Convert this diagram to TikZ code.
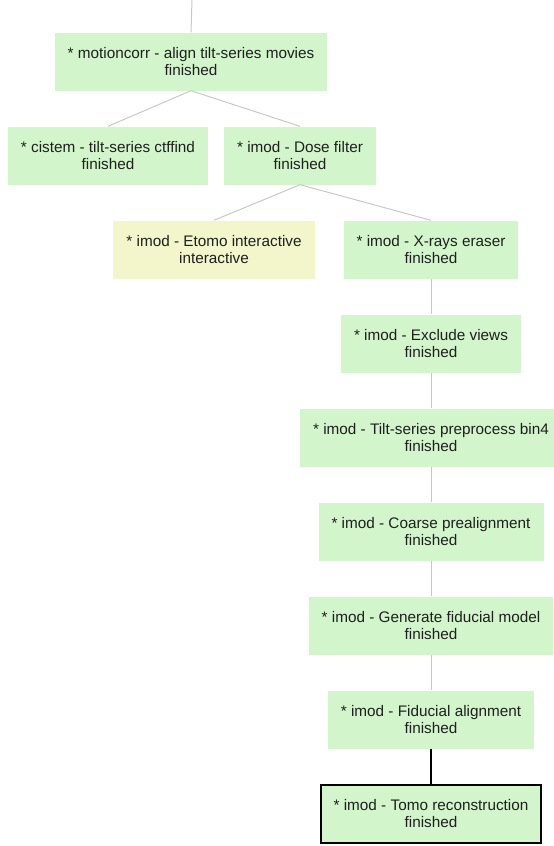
\documentclass[tikz,border=0pt]{standalone}
\usepackage{fontspec}
\setmainfont{Liberation Sans}
\usetikzlibrary{trees}
\definecolor{donegreen}{HTML}{D2F5CB}
\definecolor{waityellow}{HTML}{F3F5CB}
\definecolor{linkgray}{HTML}{C8C8C8}

\tikzset{
	box/.style = {rectangle, minimum height=58pt, inner xsep=13pt, align=center,
		font=\fontsize{15.3}{17}\selectfont, text=black!88},
	finished/.style = {box, fill=donegreen},
	interactive/.style = {box, fill=waityellow},
	selected/.style = {finished, draw=black, line width=2pt}
}

\begin{document}
\begin{tikzpicture}[x=1pt, y=1pt,
	grow via three points={one child at (0,-94) and two children at (-94,-94) and (94,-94)},
	parent anchor=south, child anchor=north,
	edge from parent/.style={draw=linkgray, line width=1pt},
	level 1/.style={grow via three points={one child at (13,-94) and two children at (-83,-94) and (109,-94)}},
	level 2/.style={grow via three points={one child at (22,-94) and two children at (-86,-94) and (131,-94)}},
	level 3/.style={grow via three points={one child at (0,-94) and two children at (-94,-94) and (94,-94)}}]
	\clip (0,0) rectangle (554,-846);
	\coordinate (start) at (192,0);
	\node[finished] (motioncorr) at (191,-61.5) {* motioncorr - align tilt-series movies\\finished}
		child {
			node[finished] (ctffind) {* cistem - tilt-series ctffind\\finished}
		}
		child {
			node[finished] (dose) {* imod - Dose filter\\finished}
			child {
				node[interactive] (etomo) {* imod - Etomo interactive\\interactive}
			}
			child {
				node[finished] (xrays) {* imod - X-rays eraser\\finished}
				child {
					node[finished] (exclude) {* imod - Exclude views\\finished}
					child {
						node[finished] (preprocess) {* imod - Tilt-series preprocess bin4\\finished}
						child {
							node[finished] (prealign) {* imod - Coarse prealignment\\finished}
							child {
								node[finished] (fidmodel) {* imod - Generate fiducial model\\finished}
								child {
									node[finished] (fidalign) {* imod - Fiducial alignment\\finished}
									child {
										node[selected] (tomo) {* imod - Tomo reconstruction\\finished}
										edge from parent[draw=black, line width=2pt]
									}
								}
							}
						}
					}
				}
			}
		}
	;
	\draw[linkgray, line width=1pt] (start) -- (motioncorr.north);
\end{tikzpicture}
\end{document}
